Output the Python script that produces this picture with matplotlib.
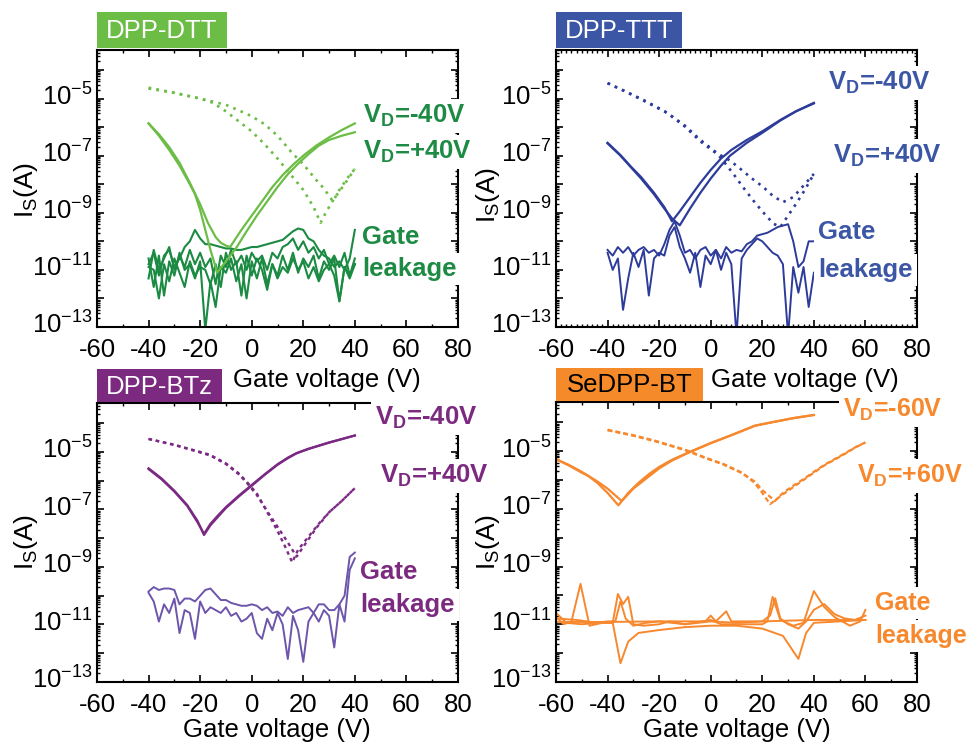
import numpy as np
import matplotlib
matplotlib.use('Agg')
import matplotlib.pyplot as plt
from matplotlib.patches import Rectangle
from matplotlib.transforms import ScaledTranslation
from matplotlib.ticker import LogLocator, FuncFormatter, MultipleLocator, NullFormatter

plt.rcParams['font.family'] = ['Liberation Sans', 'DejaVu Sans']
plt.rcParams['mathtext.fontset'] = 'custom'
plt.rcParams['mathtext.rm'] = 'Liberation Sans'
plt.rcParams['mathtext.it'] = 'Liberation Sans'
plt.rcParams['mathtext.bf'] = 'Liberation Sans:bold'
plt.rcParams['axes.unicode_minus'] = False

# ---------------- data (log10 of current in A) ----------------
# DPP-DTT
dtt_s1_v = [-40, -36, -32, -28, -24, -20, -17, -14, -12, -10, -8.4, -4, 0, 4, 8, 12, 16, 20, 25, 30, 35, 40]
dtt_s1 = [-5.87, -6.25, -6.7, -7.25, -7.95, -8.7, -9.35, -9.85, -10.05, -10.15, -10.2, -9.6, -9.1, -8.6, -8.1, -7.68, -7.32, -7.0, -6.65, -6.36, -6.1, -5.87]
dtt_s2_v = [-40, -36, -32, -28, -24, -22, -20, -18, -16, -14, -13.5, -10, -5.8, -2, 2, 6, 10, 14, 18, 22, 26, 30, 35, 40]
dtt_s2 = [-5.87, -6.3, -6.8, -7.35, -8.0, -8.35, -8.9, -9.6, -10.3, -10.9, -11.1, -10.7, -10.2, -9.65, -9.1, -8.6, -8.1, -7.65, -7.28, -6.95, -6.65, -6.45, -6.3, -6.18]
dtt_d1_v = [-40, -30, -20, -10, -4.6, 0, 5, 10, 16, 20, 25, 28, 31.5, 34, 37, 40]
dtt_d1 = [-4.65, -4.8, -5.0, -5.22, -5.43, -5.62, -5.9, -6.3, -6.94, -7.3, -7.85, -8.15, -8.6, -8.2, -7.8, -7.46]
dtt_d2_v = [-40, -30, -20, -15, -10, -5, 0, 5, 10, 15, 20, 24, 26.7, 29, 32, 36, 40]
dtt_d2 = [-4.62, -4.8, -5.0, -5.15, -5.45, -5.8, -6.15, -6.6, -7.1, -7.65, -8.2, -8.8, -9.35, -8.95, -8.5, -8.0, -7.46]

leak_v = [-40, -38, -36, -34, -32, -30, -28, -26, -24, -22, -20, -18, -16, -14, -12, -10, -8, -6, -4, -2,
          0, 2, 4, 6, 8, 10, 12, 14, 16, 18, 20, 22, 24, 26, 28, 30, 32, 34, 36, 38, 40]
dtt_leak_a = [-10.8, -10.4, -11.2, -10.5, -10.3, -10.9, -10.6, -10.2, -10.0, -9.6,
              -9.9, -10.1, -10.1, -10.15, -10.2, -10.25, -10.25, -10.3, -10.3, -10.25,
              -10.2, -10.2, -10.15, -10.1, -10.05, -10.0, -9.95, -9.8, -9.65, -9.55,
              -9.6, -9.9, -10.0, -10.3, -10.5, -10.6, -10.9, -10.7, -11.0, -10.6, -9.6]
dtt_leak_b = [-10.6, -11.6, -10.5, -11.9, -10.7, -11.2, -10.4, -11.0, -10.8, -11.3,
              -10.7, -13.1, -11.4, -12.3, -10.9, -11.1, -10.6, -11.4, -10.8, -12.0,
              -10.7, -11.3, -10.6, -11.5, -10.8, -11.2, -10.5, -11.0, -10.4, -11.1,
              -10.6, -10.9, -10.5, -11.3, -10.7, -11.0, -10.6, -12.1, -10.9, -11.2, -10.8]
dtt_leak_c = [-11.3, -10.3, -11.0, -10.6, -10.2, -11.0, -10.5, -10.9, -10.3, -10.8,
              -10.4, -10.9, -10.6, -11.5, -10.5, -10.9, -10.3, -10.8, -10.5, -11.0,
              -10.4, -10.7, -10.5, -11.0, -10.4, -10.6, -10.2, -10.1, -9.9, -10.3,
              -10.0, -10.4, -10.2, -10.6, -10.3, -10.8, -10.5, -10.9, -10.4, -11.2, -10.6]
dtt_leak_d = [-10.9, -11.0, -12.0, -10.8, -11.4, -10.6, -11.1, -11.6, -10.7, -11.2,
              -10.9, -11.0, -11.5, -10.8, -11.6, -10.4, -11.0, -10.7, -11.9, -10.5,
              -11.2, -10.6, -11.0, -11.7, -10.8, -11.3, -10.9, -11.1, -10.6, -11.0,
              -10.7, -11.3, -10.9, -11.4, -11.0, -10.8, -11.2, -12.1, -10.9, -11.3, -10.8]

# DPP-TTT
ttt_s1_v = [-40, -35, -31, -27, -22, -18, -15, -12, -8, -4, 0, 4, 7.5, 14, 20, 27, 33, 40]
ttt_s1 = [-6.57, -7.0, -7.4, -7.8, -8.35, -8.85, -9.2, -9.44, -8.85, -8.3, -7.8, -7.35, -7.0, -6.55, -6.2, -5.77, -5.45, -5.17]
ttt_s2_v = [-40, -35, -31, -27, -22, -18, -15, -12, -8, -4, 0, 4, 8, 14, 20, 27, 33, 40]
ttt_s2 = [-6.55, -6.98, -7.38, -7.75, -8.3, -8.8, -9.3, -8.95, -8.45, -7.95, -7.5, -7.1, -6.8, -6.45, -6.15, -5.75, -5.45, -5.15]
ttt_d1_v = [-40, -33, -25, -17, -10, -4, 2.9, 7.5, 12, 16, 20.4, 24, 28, 32, 36, 40]
ttt_d1 = [-4.46, -4.75, -5.1, -5.49, -5.95, -6.45, -6.94, -7.17, -7.5, -7.8, -8.1, -8.4, -8.63, -8.45, -8.05, -7.64]
ttt_d2_v = [-40, -33, -25, -17, -10, -4, 2.9, 5, 8.8, 12.5, 16.5, 20, 24.3, 27, 30, 33, 36.5, 40]
ttt_d2 = [-4.46, -4.76, -5.12, -5.5, -5.98, -6.5, -6.97, -7.2, -7.64, -8.1, -8.57, -8.95, -9.38, -9.5, -9.1, -8.7, -8.2, -7.64]
ttt_leak_a = [-10.3, -10.5, -10.2, -10.4, -10.2, -10.5, -10.3, -10.2, -10.4, -10.3,
              -10.5, -10.1, -9.6, -9.3, -9.8, -10.4, -10.3, -10.6, -10.3, -10.2,
              -10.5, -10.3, -10.6, -10.2, -10.4, -10.3, -10.35, -10.1, -10.0, -9.8,
              -9.75, -9.7, -9.6, -9.5, -9.45, -9.4, -10.0, -10.9, -10.7, -10.0, -10.0]
ttt_leak_b = [-10.4, -11.0, -10.6, -12.4, -11.3, -10.4, -10.9, -10.3, -11.9, -10.6,
              -10.4, -10.5, -9.8, -9.5, -10.2, -10.6, -11.1, -10.4, -11.6, -10.5,
              -10.8, -10.3, -11.0, -10.4, -10.8, -13.3, -10.6, -10.3, -10.1, -9.9,
              -10.0, -10.2, -10.4, -10.5, -10.8, -13.3, -10.9, -11.8, -10.9, -12.3, -11.1]

# DPP-BTz
btz_s1_v = [-40, -35, -30, -25, -21, -18.5, -16, -13, -10, -5, -0.7, 5, 10, 14, 17.4, 22, 30, 40]
btz_s1 = [-5.57, -5.92, -6.35, -6.85, -7.4, -7.89, -7.55, -7.25, -6.95, -6.55, -6.23, -5.8, -5.45, -5.22, -5.05, -4.9, -4.68, -4.43]
btz_s2_v = [-40, -35, -30, -25, -21, -18.5, -16, -13, -10, -5, -0.7, 5, 10, 14, 17.4, 22, 30, 40]
btz_s2 = [-5.6, -5.95, -6.38, -6.88, -7.45, -7.85, -7.5, -7.2, -6.92, -6.52, -6.2, -5.78, -5.43, -5.2, -5.04, -4.89, -4.67, -4.43]
btz_d1_v = [-40, -30, -20, -16.2, -10, -5, -2, 2, 7, 10, 13, 15.7, 18, 22, 26, 30, 35, 40]
btz_d1 = [-4.55, -4.75, -5.0, -5.1, -5.4, -5.75, -6.03, -6.45, -7.25, -7.75, -8.3, -8.84, -8.4, -7.95, -7.5, -7.1, -6.7, -6.26]
btz_d2_v = [-40, -30, -20, -16.2, -10, -5, -2, 2, 7, 10, 14, 17.4, 20, 25, 30, 35, 40]
btz_d2 = [-4.55, -4.76, -5.02, -5.12, -5.42, -5.78, -6.06, -6.5, -7.2, -7.6, -8.15, -8.64, -8.3, -7.65, -7.1, -6.7, -6.26]
btz_leak_a = [-9.85, -9.7, -9.8, -9.75, -9.75, -9.8, -10.3, -10.1, -10.1, -10.2,
              -10.0, -9.8, -9.75, -9.95, -10.15, -10.15, -10.25, -10.3, -10.35, -10.35,
              -10.3, -10.35, -10.5, -10.4, -10.6, -10.55, -10.7, -10.4, -10.6, -10.5,
              -10.45, -10.4, -10.6, -10.3, -10.3, -10.5, -10.5, -10.3, -10.0, -8.65, -8.5]
btz_leak_b = [-9.9, -10.2, -10.9, -10.3, -10.6, -10.1, -11.3, -10.5, -10.6, -11.5,
              -10.2, -10.6, -10.4, -10.5, -10.6, -10.4, -10.7, -10.6, -10.9, -10.8,
              -10.6, -11.3, -11.5, -10.8, -11.2, -10.6, -11.0, -12.2, -10.7, -11.2,
              -12.3, -10.9, -10.6, -10.9, -10.5, -10.7, -11.8, -10.3, -10.9, -9.1, -8.7]

# SeDPP-BT
se_s1_v = [-60, -55, -50, -47.5, -44, -40, -35.8, -32, -28, -24, -20, -15, -8.7, 0, 8, 17.2, 25, 32, 40]
se_s1 = [-5.28, -5.5, -5.75, -5.86, -6.1, -6.45, -6.88, -6.45, -6.1, -5.8, -5.55, -5.3, -5.05, -4.72, -4.45, -4.12, -3.98, -3.86, -3.75]
se_s2_v = [-60, -55, -50, -44, -40, -34.5, -30, -25, -20, -15, -8.7, 0, 8, 17.2, 25, 32, 40]
se_s2 = [-5.28, -5.48, -5.72, -6.05, -6.3, -6.73, -6.3, -5.95, -5.6, -5.33, -5.06, -4.73, -4.45, -4.12, -3.98, -3.86, -3.75]
se_d1_v = [-40, -30, -21.6, -10, -2.2, 5, 12, 17, 20, 23, 28, 32, 36, 40, 44, 48, 52, 56, 60]
se_d1 = [-4.26, -4.45, -4.64, -4.95, -5.22, -5.45, -5.74, -6.1, -6.45, -6.84, -6.5, -6.25, -6.0, -5.75, -5.5, -5.3, -5.1, -4.88, -4.7]
se_d2_v = [-40, -30, -21.6, -10, -2.2, 5, 12, 17, 20, 24.9, 28, 32, 36, 40, 44, 48, 52, 56, 60]
se_d2 = [-4.28, -4.47, -4.66, -4.97, -5.24, -5.47, -5.76, -6.05, -6.35, -6.73, -6.45, -6.2, -5.97, -5.72, -5.48, -5.28, -5.08, -4.87, -4.7]
se_leak1_v = [-60, -57, -54, -50.5, -47, -42, -38, -36, -34, -32, -30, -26, -20, -16, -10, 0, 4, 8, 12, 20, 22, 24, 27, 32, 36, 40, 44, 48, 54, 58, 60]
se_leak1 = [-10.75, -11.0, -10.9, -9.6, -11.05, -10.95, -10.95, -9.95, -10.3, -10.05, -11.0, -11.05, -11.0, -10.9, -11.0, -10.85,
            -11.0, -11.0, -11.0, -11.0, -10.9, -10.05, -10.85, -11.05, -10.95, -9.85, -10.4, -10.75, -11.05, -10.9, -10.5]
se_leak2_v = [-60, -52, -44, -38, -35, -32, -28, -20, -10, 0, 10, 20, 28, 34, 37, 40, 50, 60]
se_leak2 = [-10.8, -10.85, -10.95, -10.95, -12.35, -11.6, -11.3, -11.2, -11.1, -11.05, -11.05, -11.15, -11.4, -12.2, -11.3, -10.95, -10.9, -10.85]
se_leak3_v = [-60, -40, -20, -2, 0, 2, 6, 8, 20, 40, 60]
se_leak3 = [-10.92, -10.92, -10.9, -10.9, -10.7, -10.9, -10.55, -10.9, -10.9, -10.85, -10.85]
se_leak4_v = [-60, -56, -50, -44, -40, -37, -35, -33, -30, -25, -20, -15, -10, 0, 10, 20, 23, 25, 27, 30, 34, 37, 40, 44, 48, 52, 56, 60]
se_leak4 = [-10.6, -10.95, -11.0, -10.95, -10.9, -10.9, -10.2, -10.8, -11.05, -10.95, -10.9, -10.95, -11.0, -10.9, -10.95,
            -10.9, -10.7, -10.1, -10.8, -11.0, -11.15, -10.9, -10.5, -10.3, -10.65, -10.8, -10.85, -10.7]

x_ticks = [-60, -40, -20, 0, 20, 40, 60, 80]

# ---------------- figure ----------------
W, H = 970, 743
fig = plt.figure(figsize=(W / 100, H / 100), dpi=100)


def fx(x):
    return x / W


def fy(y):
    return 1 - y / H


def make_ax(l, t, r, b, minor_step):
    ax = fig.add_axes([fx(l), fy(b), (r - l) / W, (b - t) / H])
    ax.set_yscale('log')
    ax.set_xlim(-60, 80)
    ax.set_ylim(1e-13, 10 ** -3.3)
    ax.set_xticks(x_ticks)
    ax.xaxis.set_minor_locator(MultipleLocator(minor_step))
    ax.yaxis.set_major_locator(LogLocator(base=10, subs=(1.0,), numticks=30))
    ax.yaxis.set_minor_locator(LogLocator(base=10, subs=np.arange(2, 10), numticks=30))
    ax.yaxis.set_minor_formatter(NullFormatter())

    def fmt(v, p):
        e = int(round(np.log10(v)))
        if e % 2 == 0:
            return ''
        return r'$\mathdefault{10^{%d}}$' % e
    ax.yaxis.set_major_formatter(FuncFormatter(fmt))
    ax.tick_params(which='both', direction='in', top=True, right=True, labelsize=18.5)
    ax.tick_params(which='major', length=5, width=1.2)
    ax.tick_params(which='minor', length=2.5, width=1.0)
    ax.tick_params(axis='x', which='major', pad=8)
    ax.tick_params(axis='y', which='major', pad=3)
    for s in ax.spines.values():
        s.set_linewidth(1.5)
    # lift the y tick labels slightly so the "10" sits on the tick
    up = ScaledTranslation(0, 4 / 100, fig.dpi_scale_trans)
    for tk in ax.yaxis.get_major_ticks():
        tk.label1.set_transform(tk.label1.get_transform() + up)
    return ax


def L(vals):
    return 10 ** np.array(vals)


dot = (0, (1, 2))
lw = 1.6

# Panel 1: DPP-DTT
c_lg, c_dg = '#6cbd45', '#1b8a42'
ax1 = make_ax(97, 50, 458, 327, 10)
for lk in (dtt_leak_a, dtt_leak_b, dtt_leak_c, dtt_leak_d):
    ax1.plot(leak_v, L(lk), color=c_dg, lw=1.5)
ax1.plot(dtt_s1_v, L(dtt_s1), color=c_lg, lw=lw)
ax1.plot(dtt_s2_v, L(dtt_s2), color=c_lg, lw=lw)
ax1.plot(dtt_d1_v, L(dtt_d1), color=c_lg, lw=1.9, ls=dot)
ax1.plot(dtt_d2_v, L(dtt_d2), color=c_lg, lw=1.9, ls=dot)

# Panel 2: DPP-TTT
c_b = '#2d3c9a'
ax2 = make_ax(556, 50, 917, 327, 2)
for lk in (ttt_leak_a, ttt_leak_b):
    ax2.plot(leak_v, L(lk), color=c_b, lw=1.4)
ax2.plot(ttt_s1_v, L(ttt_s1), color=c_b, lw=lw)
ax2.plot(ttt_s2_v, L(ttt_s2), color=c_b, lw=lw)
ax2.plot(ttt_d1_v, L(ttt_d1), color=c_b, lw=1.9, ls=dot)
ax2.plot(ttt_d2_v, L(ttt_d2), color=c_b, lw=1.9, ls=dot)

# Panel 3: DPP-BTz
c_p, c_pl = '#7b2a84', '#6d55ab'
ax3 = make_ax(97, 403, 458, 682, 10)
for lk in (btz_leak_a, btz_leak_b):
    ax3.plot(leak_v, L(lk), color=c_pl, lw=1.4)
ax3.plot(btz_s1_v, L(btz_s1), color=c_p, lw=lw)
ax3.plot(btz_s2_v, L(btz_s2), color=c_p, lw=lw)
ax3.plot(btz_d1_v, L(btz_d1), color=c_p, lw=1.7, ls=(0, (1.5, 1.6)))
ax3.plot(btz_d2_v, L(btz_d2), color=c_p, lw=1.7, ls=(0, (1.5, 1.6)))

# Panel 4: SeDPP-BT
c_o = '#f7882d'
ax4 = make_ax(556, 402, 917, 682, 10)
for vv, lk in ((se_leak1_v, se_leak1), (se_leak2_v, se_leak2), (se_leak3_v, se_leak3), (se_leak4_v, se_leak4)):
    ax4.plot(vv, L(lk), color=c_o, lw=1.4)
ax4.plot(se_s1_v, L(se_s1), color=c_o, lw=lw)
ax4.plot(se_s2_v, L(se_s2), color=c_o, lw=lw)
ax4.plot(se_d1_v, L(se_d1), color=c_o, lw=1.6, ls=(0, (2.2, 1.4)))
ax4.plot(se_d2_v, L(se_d2), color=c_o, lw=1.6, ls=(0, (2.2, 1.4)))

# axis labels
for (x, y) in ((26, 190), (488, 195), (26, 542), (488, 542)):
    fig.text(fx(x), fy(y), r'I$_\mathregular{S}$(A)', rotation=90, fontsize=19, ha='center', va='center')
for (x, y) in ((327, 380), (805, 380), (277, 730), (737, 730)):
    fig.text(fx(x), fy(y), 'Gate voltage (V)', fontsize=18.5, ha='center', va='center')

# title boxes
boxes = [
    (97, 12, 227, 48, '#6cbd45', 'DPP-DTT', 'white'),
    (556, 12, 682, 48, '#3c56a6', 'DPP-TTT', 'white'),
    (97, 369, 222, 402, '#7b2a80', 'DPP-BTz', 'white'),
    (556, 368, 703, 401, '#f58a2b', 'SeDPP-BT', 'black'),
]
for (l, t, r, b, fc, txt, tc) in boxes:
    fig.add_artist(Rectangle((fx(l), fy(b)), (r - l) / W, (b - t) / H, transform=fig.transFigure,
                             facecolor=fc, edgecolor='none', zorder=5))
    fig.text(fx((l + r) / 2), fy((t + b) / 2 + 1), txt, color=tc, fontsize=18.5, ha='center', va='center', zorder=6)

# annotations
wb = dict(facecolor='white', edgecolor='none', pad=3)
annots = [
    ('#1e8b45', 18.5, [(363, 123, r'$\mathbf{V_D}$=-40V'), (363, 159, r'$\mathbf{V_D}$=+40V'),
                       (362, 244, 'Gate'), (362, 276, 'leakage')]),
    ('#3c56a6', 18.5, [(828, 90, r'$\mathbf{V_D}$=-40V'), (833, 163, r'$\mathbf{V_D}$=+40V'),
                       (818, 239, 'Gate'), (818, 277, 'leakage')]),
    ('#7b2a80', 18.5, [(375, 425, r'$\mathbf{V_D}$=-40V'), (380, 483, r'$\mathbf{V_D}$=+40V'),
                       (360, 579, 'Gate'), (360, 612, 'leakage')]),
    ('#f7882d', 18.0, [(843, 417, r'$\mathbf{V_D}$=-60V'), (857, 483, r'$\mathbf{V_D}$=+60V'),
                       (875, 610, 'Gate'), (875, 643, 'leakage')]),
]
for col, fs, items in annots:
    for (x, y, s) in items:
        fig.text(fx(x), fy(y), s, color=col, fontsize=fs, fontweight='bold', ha='left', va='baseline',
                 bbox=wb, zorder=4)

fig.savefig('out.png', dpi=100, facecolor='white')
